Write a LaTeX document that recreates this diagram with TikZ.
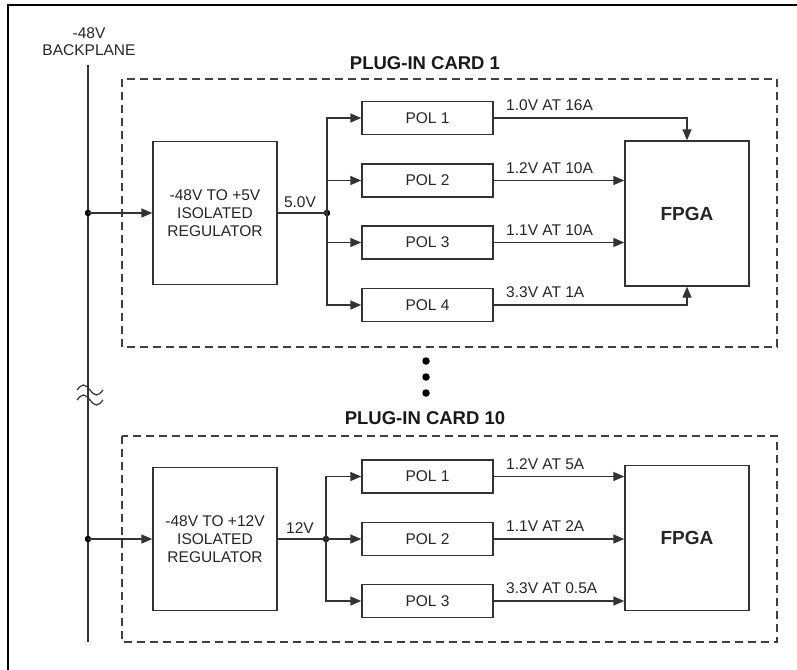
\documentclass[tikz,border=0pt]{standalone}
\usepackage{fontspec}
\setmainfont{Liberation Sans}
\usetikzlibrary{arrows.meta}
\begin{document}
\begin{tikzpicture}[x=1pt,y=-1pt,
  ln/.style={draw=black!80, line width=1.4pt},
  arr/.style={ln, -{Triangle[length=11pt,width=9pt]}},
  blk/.style={ln, rectangle, inner sep=0pt, text=black!85, align=center,
    font=\fontsize{15.5}{18}\selectfont},
  polbox/.style={blk, minimum width=131pt, minimum height=33pt},
  regbox/.style={blk, minimum width=124pt, minimum height=143pt},
  fpgabox/.style={blk, minimum width=124pt, minimum height=145pt,
    font=\fontsize{19}{21}\selectfont\bfseries},
  lbl/.style={inner sep=0pt, anchor=base west, text=black!85,
    font=\fontsize{15.5}{17}\selectfont},
  vlbl/.style={inner sep=0pt, anchor=base, text=black!85,
    font=\fontsize{15.5}{17}\selectfont},
  title/.style={inner sep=0pt, text=black!90,
    font=\fontsize{18.5}{20}\selectfont\bfseries},
  cardbox/.style={draw=black!75, line width=1.4pt, dash pattern=on 8pt off 5pt},
  dotnode/.style={circle, fill=black, inner sep=0pt, minimum size=6.5pt}
]
\useasboundingbox (0,0) rectangle (797,669);
% outer frame
\draw[line width=1.6pt] (8,680) -- (8,5) -- (810,5);

% backplane
\node[vlbl, anchor=center, align=center, font=\fontsize{15.5}{17}\selectfont] (bp) at (89,42) {-48V\\BACKPLANE};
\coordinate (bpt) at (88,65);
\coordinate (bpb) at (88,642);
\draw[ln] (bpt) -- (bpb);
% break symbol
\draw[ln, line width=1.2pt] (77,390) sin (83.5,385) cos (90,390) sin (96.5,395) cos (103,390);
\draw[ln, line width=1.2pt] (77,400) sin (83.5,395) cos (90,400) sin (96.5,405) cos (103,400);

% ---------- card 1 ----------
\draw[cardbox] (122,79) rectangle (777,347);
\node[title] (t1) at (425,63.5) {PLUG-IN CARD 1};

\node[regbox] (r1) at (215,213) {-48V TO +5V\\ISOLATED\\REGULATOR};
\node[polbox] (p11) at (427.5,118) {POL 1};
\node[polbox] (p12) at (427.5,180.5) {POL 2};
\node[polbox] (p13) at (427.5,242.5) {POL 3};
\node[polbox] (p14) at (427.5,305) {POL 4};
\node[fpgabox] (f1) at (687,213.5) {FPGA};

\node[dotnode] (d1) at (88,213) {};
\node[dotnode] (j1) at (327,213) {};
\draw[arr] (d1.center) -- (r1.west);
\draw[ln] (r1.east) -- (j1.center);
\node[vlbl] (v1) at (300,207) {5.0V};
\draw[arr] (j1.center) |- (p11.west);
\draw[arr] (j1.center) |- (p12.west);
\draw[arr] (j1.center) |- (p13.west);
\draw[arr] (j1.center) |- (p14.west);

\draw[arr] (p11.east) -| (f1.north);
\draw[arr] (p12.east) -- (p12.east -| f1.west);
\draw[arr] (p13.east) -- (p13.east -| f1.west);
\draw[arr] (p14.east) -| (f1.south);
\node[lbl] (o11) at (506,110) {1.0V AT 16A};
\node[lbl] (o12) at (506,173) {1.2V AT 10A};
\node[lbl] (o13) at (506,235) {1.1V AT 10A};
\node[lbl] (o14) at (506,297.5) {3.3V AT 1A};

% dots between cards
\node[dotnode, minimum size=7.5pt] (e1) at (426,361) {};
\node[dotnode, minimum size=7.5pt] (e2) at (426,377) {};
\node[dotnode, minimum size=7.5pt] (e3) at (426,393) {};

% ---------- card 10 ----------
\draw[cardbox] (122,436) rectangle (777,642);
\node[title] (t2) at (425,418.5) {PLUG-IN CARD 10};

\node[regbox] (r2) at (215,539) {-48V TO +12V\\ISOLATED\\REGULATOR};
\node[polbox] (p21) at (427.5,476.5) {POL 1};
\node[polbox] (p22) at (427.5,539) {POL 2};
\node[polbox] (p23) at (427.5,601) {POL 3};
\node[fpgabox] (f2) at (687,538) {FPGA};

\node[dotnode] (d2) at (88,539) {};
\node[dotnode] (j2) at (326,539) {};
\draw[arr] (d2.center) -- (r2.west);
\draw[ln] (r2.east) -- (j2.center);
\node[vlbl] (v2) at (300,533) {12V};
\draw[arr] (j2.center) |- (p21.west);
\draw[arr] (j2.center) -- (p22.west);
\draw[arr] (j2.center) |- (p23.west);

\draw[arr] (p21.east) -- (p21.east -| f2.west);
\draw[arr] (p22.east) -- (p22.east -| f2.west);
\draw[arr] (p23.east) -- (p23.east -| f2.west);
\node[lbl] (o21) at (506,469) {1.2V AT 5A};
\node[lbl] (o22) at (506,531.5) {1.1V AT 2A};
\node[lbl] (o23) at (506,593.5) {3.3V AT 0.5A};
\end{tikzpicture}
\end{document}
